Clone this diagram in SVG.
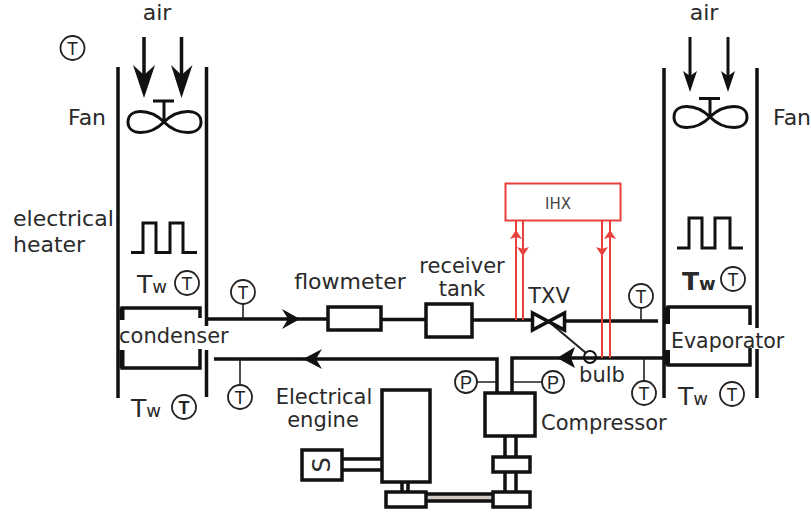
<svg xmlns="http://www.w3.org/2000/svg" width="811" height="513" viewBox="0 0 811 513">
<style>
.t{font-family:"DejaVu Sans",Verdana,sans-serif;font-size:21px;fill:#2a2a2a}
.g{font-size:22px}
.tw{font-family:"DejaVu Sans",Verdana,sans-serif;font-size:25px;fill:#2a2a2a}
.tw tspan{font-size:18px}
.m{text-anchor:middle}
.w{fill:none;stroke:#111;stroke-width:3.5}
.b{fill:#fff;stroke:#111;stroke-width:3.5}
.f{fill:none;stroke:#111;stroke-width:3}
.c{fill:#fff;stroke:#222;stroke-width:1.8}
.ct{font-family:"Liberation Sans",Arial,sans-serif;font-size:18px;fill:#222;text-anchor:middle}
.s{fill:none;stroke:#222;stroke-width:1.6}
.r{fill:none;stroke:#e8413c;stroke-width:2}
.rh{fill:#e8413c}
.a{fill:#111}
.l{fill:none;stroke:#111;stroke-width:3.5}
</style>
<defs>
<g id="tm"><circle class="c" r="12"/><text class="ct" y="6.5">T</text></g>
<g id="pm"><circle class="c" r="11"/><text class="ct" y="6.5">P</text></g>
</defs>

<g id="connectors">
<path class="l" d="M207 319H328M381 319.500H426M472 320H531M566 321H658"/>
<path class="a" d="M300 319L282 309L288 319L282 329Z"/>
<path class="l" d="M214 359H497V393"/>
<path class="a" d="M303 359L322 349L316 359L322 369Z"/>
<path class="l" d="M512 393V358H663"/>
<path class="a" d="M557 358L575 347L571 358L575 368Z"/>
<path d="M548 321L586 353" fill="none" stroke="#222" stroke-width="2"/>
<path class="s" d="M243 304V319M240 359V385M641 308V321M644 358V381M477 382H497M512 382H542"/>
<path class="w" d="M505 436V457M516 436V457M505 472V492M516 472V492M402 482V492M408 482V492M342 459H382M342 470H382"/>
<path d="M426 497.500H493" stroke="#cfc8c4" stroke-width="6" fill="none"/>
<path class="w" d="M426 494H493M426 501H493"/>
<path class="r" d="M516 221V320M523 221V320M602 221V358M610 221V358"/>
<path class="rh" d="M516 230L510 239L516 237L522 239ZM610 230L604 239L610 237L616 239ZM523 256L517 247L523 249L529 247ZM602 256L596 247L602 249L608 247Z"/>
</g>

<g id="condenser-duct">
<path class="w" d="M118 67V398M206.500 67V326M206.500 350V397"/>
<path class="w" d="M122 320V308H200V318M122 350V368H200V349"/>
<path d="M122 308V320M122 350V368" stroke="#111" stroke-width="5" fill="none"/>
<text class="t" x="119" y="343">condenser</text>
</g>

<g id="condenser-air">
<text class="t g m" x="157" y="20">air</text>
<path d="M144 37V80M181.500 37V80" stroke="#111" stroke-width="3.500"/>
<path class="a" d="M144 98L133 65L144 75L155 65ZM181.500 98L171 65L181.500 75L192.500 65Z"/>
<use href="#tm" x="72.500" y="48"/>
</g>
<g id="condenser-fan">
<text class="t g" x="68" y="125">Fan</text>
<path class="f" d="M153 101H174M164 101V122M164 122C150 108 128 108 128 122C128 136 150 136 164 122C178 108 201 108 201 122C201 136 178 136 164 122Z"/>
</g>
<g id="condenser-heater">
<text class="t g" x="13" y="226">electrical</text>
<text class="t g" x="13" y="252">heater</text>
<path class="f" d="M131 252.500H143V223H156V252.500H170V223H183V252.500H197"/>
</g>
<g id="condenser-temps">
<text class="tw" x="137" y="293">T<tspan>w</tspan></text>
<use href="#tm" x="187" y="283"/>
<use href="#tm" x="243" y="292"/>
<use href="#tm" x="240" y="397"/>
<text class="tw" x="131" y="417">T<tspan>w</tspan></text>
<g transform="translate(184 407)"><circle class="c" r="12" stroke-width="2.500"/><text class="ct" y="6.500" font-weight="bold">T</text></g>
</g>

<g id="flowmeter">
<text class="t g m" x="350" y="289">flowmeter</text>
<rect class="b" x="328" y="307" width="53" height="23"/>
</g>
<g id="receiver-tank">
<text class="t m" x="462" y="273">receiver</text>
<text class="t m" x="462" y="296">tank</text>
<rect class="b" x="426" y="304" width="46" height="33"/>
</g>
<g id="txv">
<text class="t m" x="549" y="303">TXV</text>
<path class="w" d="M532.500 313V330L564.500 313V330Z" stroke-width="4"/>
</g>
<g id="ihx">
<rect x="505.500" y="183.500" width="115" height="37" fill="#fff" stroke="#e8413c" stroke-width="2"/>
<text x="558" y="209" font-family="DejaVu Sans,sans-serif" font-size="15" fill="#444" text-anchor="middle">IHX</text>
</g>
<g id="bulb">
<circle cx="590" cy="357" r="6" fill="none" stroke="#111" stroke-width="2"/>
<text class="t m" x="602" y="382">bulb</text>
</g>

<g id="evaporator-duct">
<path class="w" d="M664 68V398M757 68V328M757 349V398"/>
<path class="w" d="M668 324V307H750V325M668 350V365H750V348"/>
<path d="M667.500 307V324M667.500 350V365" stroke="#111" stroke-width="5" fill="none"/>
<text class="t" x="671" y="348" font-size="20.500" style="font-size:20.5px">Evaporator</text>
</g>
<g id="evaporator-air">
<text class="t g m" x="704" y="20">air</text>
<path d="M690 37V80M728 37V80" stroke="#111" stroke-width="3"/>
<path class="a" d="M690 92L683 71L690 76L697 71ZM728 92L721 71L728 76L735 71Z"/>
</g>
<g id="evaporator-fan">
<text class="t g" x="773" y="125">Fan</text>
<path class="f" d="M699 98.500H720M710 98.500V117M710 117C696 103 674 103 674 117C674 131 696 131 710 117C724 103 747 103 747 117C747 131 724 131 710 117Z"/>
</g>
<g id="evaporator-heater">
<path class="f" d="M677 248H689V218H702V248H715V218H730V248H743"/>
</g>
<g id="evaporator-temps">
<text class="tw" x="682" y="290" font-weight="bold">T<tspan>w</tspan></text>
<use href="#tm" x="733" y="279"/>
<use href="#tm" x="641" y="296"/>
<use href="#tm" x="644" y="393"/>
<text class="tw" x="678" y="405">T<tspan>w</tspan></text>
<use href="#tm" x="732" y="394"/>
</g>

<g id="compressor">
<rect class="b" x="485" y="393" width="50" height="43"/>
<text class="t" x="541" y="430">Compressor</text>
<use href="#pm" x="466" y="382"/>
<use href="#pm" x="553" y="382"/>
<rect class="b" x="493" y="457" width="37" height="15"/>
<rect class="b" x="493" y="492" width="37" height="15"/>
</g>
<g id="electrical-engine">
<text class="t m" x="324" y="404">Electrical</text>
<text class="t m" x="323" y="427">engine</text>
<rect class="b" x="382" y="390" width="48" height="92"/>
<rect class="b" x="386" y="492" width="40" height="15"/>
</g>
<g id="starter">
<rect class="b" x="302" y="450" width="40" height="30"/>
<text class="t m" transform="translate(322 465) rotate(-90)" y="8" style="font-size:24px">S</text>
</g>
</svg>
